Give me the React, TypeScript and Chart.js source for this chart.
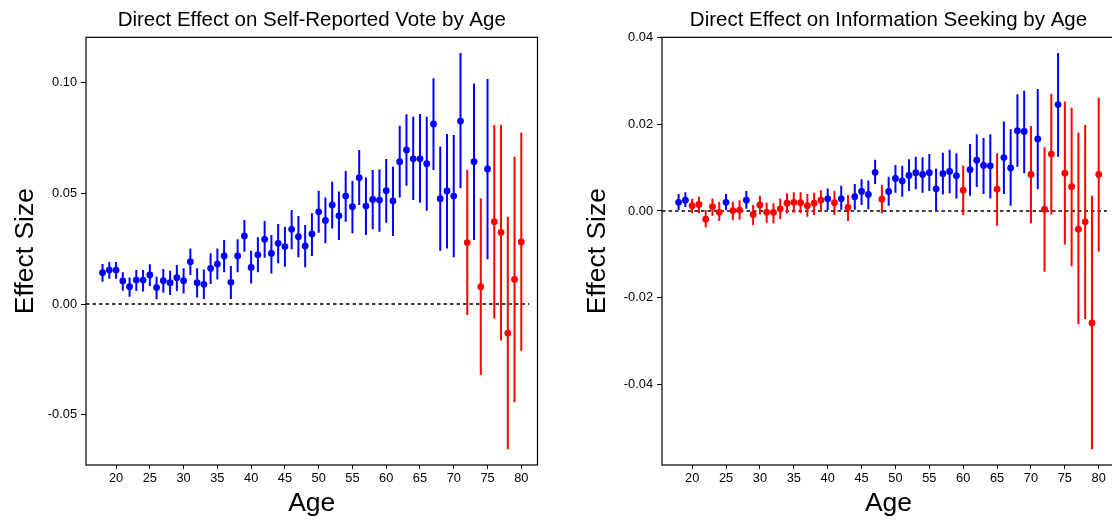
import { useEffect, useRef } from "react";
import { Chart, registerables } from "chart.js";

Chart.register(...registerables);

const FONT = "'Liberation Sans', Arial, Helvetica, sans-serif";

const ages = [
  18, 19, 20, 21, 22, 23, 24, 25, 26, 27, 28, 29, 30, 31, 32, 33, 34, 35, 36, 37, 38,
  39, 40, 41, 42, 43, 44, 45, 46, 47, 48, 49, 50, 51, 52, 53, 54, 55, 56, 57, 58, 59,
  60, 61, 62, 63, 64, 65, 66, 67, 68, 69, 70, 71, 72, 73, 74, 75, 76, 77, 78, 79, 80,
];

const ageTicks = [20, 25, 30, 35, 40, 45, 50, 55, 60, 65, 70, 75, 80];

const voteEffect = [
  0.0141, 0.0153, 0.0153, 0.0104, 0.0078, 0.0108, 0.0108, 0.0131, 0.0074, 0.0105,
  0.0096, 0.0119, 0.0105, 0.0191, 0.0096, 0.0089, 0.0161, 0.018, 0.0217, 0.0098,
  0.0217, 0.0307, 0.0165, 0.0222, 0.0292, 0.0228, 0.0274, 0.0259, 0.0337, 0.0304,
  0.0262, 0.0316, 0.0416, 0.0377, 0.0447, 0.0398, 0.0487, 0.0439, 0.057, 0.0442,
  0.0472, 0.0469, 0.0511, 0.0465, 0.0642, 0.0695, 0.0655, 0.0655, 0.0633, 0.0812,
  0.0475, 0.051, 0.0487, 0.0825, 0.0277, 0.0642, 0.0078, 0.0609, 0.0371, 0.0323,
  -0.0131, 0.0111, 0.028,
];
const voteLower = [
  0.01, 0.0114, 0.0114, 0.006, 0.0033, 0.0059, 0.0056, 0.0081, 0.0021, 0.0051,
  0.0041, 0.0059, 0.0048, 0.0131, 0.003, 0.0023, 0.009, 0.0111, 0.0143, 0.0023,
  0.0143, 0.0236, 0.0093, 0.0143, 0.0209, 0.0138, 0.0184, 0.0168, 0.0247, 0.0211,
  0.0166, 0.0217, 0.0322, 0.0274, 0.0341, 0.0289, 0.0371, 0.0319, 0.0447, 0.0311,
  0.0337, 0.0326, 0.0367, 0.0307, 0.048, 0.0534, 0.0469, 0.0457, 0.0421, 0.0604,
  0.024, 0.0251, 0.0211, 0.0522, -0.005, 0.0289, -0.032, 0.0202, -0.0065, -0.0165,
  -0.0655, -0.0443, -0.0211,
];
const voteUpper = [
  0.018, 0.019, 0.019, 0.0143, 0.012, 0.0153, 0.0153, 0.0179, 0.0123, 0.0158,
  0.015, 0.0176, 0.0161, 0.0251, 0.0161, 0.0156, 0.0229, 0.0251, 0.0289, 0.0171,
  0.0292, 0.0379, 0.024, 0.0301, 0.0374, 0.0311, 0.0361, 0.0349, 0.0424, 0.0397,
  0.0356, 0.0409, 0.0511, 0.0481, 0.0552, 0.0507, 0.06, 0.0555, 0.0695, 0.0571,
  0.0604, 0.0608, 0.0654, 0.0619, 0.0804, 0.0856, 0.0845, 0.0857, 0.0845, 0.1018,
  0.071, 0.0767, 0.0762, 0.1132, 0.0604, 0.0995, 0.0477, 0.1015, 0.0807, 0.0807,
  0.0394, 0.0664, 0.0773,
];
const voteTicks = [-0.05, 0.0, 0.05, 0.1];

const infoEffect = [
  0.002, 0.0025, 0.0012, 0.0015, -0.0019, 0.001, -0.0003, 0.002, 0.0001, 0.0002,
  0.0025, -0.0008, 0.0014, -0.0003, -0.0003, 0.0005, 0.0018, 0.002, 0.0019, 0.0012,
  0.0018, 0.0025, 0.0028, 0.0019, 0.0028, 0.0008, 0.0033, 0.0045, 0.0038, 0.0089,
  0.0027, 0.0045, 0.0075, 0.0069, 0.0082, 0.0088, 0.0084, 0.0088, 0.0051, 0.0086,
  0.0091, 0.0081, 0.0048, 0.0095, 0.0117, 0.0105, 0.0104, 0.005, 0.0123, 0.0099,
  0.0185, 0.0183, 0.0084, 0.0166, 0.0004, 0.0131, 0.0245, 0.0087, 0.0056, -0.0042,
  -0.0025, -0.0258, 0.0084,
];
const infoLower = [
  0.0002, 0.0009, -0.0005, -0.0005, -0.0038, -0.0011, -0.0023, 0.0002, -0.0021, -0.002,
  0.0005, -0.0032, -0.0008, -0.0027, -0.0028, -0.0019, -0.0005, -0.0004, -0.0005, -0.0013,
  -0.0009, -0.0002, 0.0002, -0.0009, 0.0003, -0.0023, 0.0003, 0.0014, 0.0004, 0.0062,
  -0.0005, 0.0012, 0.0042, 0.0033, 0.0046, 0.005, 0.0042, 0.0046, 0.0002, 0.0038,
  0.0041, 0.0029, -0.0009, 0.0035, 0.0055, 0.0039, 0.0029, -0.0034, 0.0039, 0.0012,
  0.0102, 0.0087, -0.0028, 0.005, -0.014, -0.0008, 0.0125, -0.0077, -0.0127, -0.0261,
  -0.0249, -0.0549, -0.0094,
];
const infoUpper = [
  0.0039, 0.0043, 0.0028, 0.0033, 0.0002, 0.0029, 0.0021, 0.0039, 0.0021, 0.0025,
  0.0046, 0.0014, 0.0035, 0.0019, 0.0018, 0.0029, 0.0041, 0.0043, 0.0043, 0.0039,
  0.0042, 0.0048, 0.0052, 0.0046, 0.0058, 0.0037, 0.0062, 0.0073, 0.007, 0.0118,
  0.006, 0.0079, 0.0106, 0.0104, 0.0119, 0.0125, 0.0124, 0.0131, 0.0098, 0.0134,
  0.0141, 0.0133, 0.0104, 0.0154, 0.0177, 0.0168, 0.0177, 0.0133, 0.0206, 0.0188,
  0.0269, 0.0277, 0.0196, 0.0281, 0.0147, 0.027, 0.0364, 0.0252, 0.0238, 0.0181,
  0.0198, 0.0035, 0.0261,
];
const infoTicks = [-0.04, -0.02, 0.0, 0.02, 0.04];

type PanelProps = {
  title: string;
  effect: number[];
  lower: number[];
  upper: number[];
  yTicks: number[];
  yMin: number;
  yMax: number;
  left: number;
  width: number;
  yAxisWidth: number;
  yTitlePad: number;
  padRight: number;
};

function Panel(p: PanelProps) {
  const ref = useRef<HTMLCanvasElement | null>(null);
  useEffect(() => {
    if (!ref.current) return;
    const colors = p.lower.map((lo, i) =>
      lo > 0 || p.upper[i] < 0 ? "#0000FF" : "#FF0000"
    );
    const errorBars = {
      id: "errorBars",
      beforeDatasetsDraw(chart: any) {
        const { ctx, chartArea, scales } = chart;
        const x = scales.x;
        const y = scales.y;
        ctx.save();
        ctx.beginPath();
        ctx.rect(chartArea.left, chartArea.top, chartArea.right - chartArea.left, chartArea.bottom - chartArea.top);
        ctx.clip();
        const y0 = y.getPixelForValue(0);
        ctx.beginPath();
        ctx.setLineDash([3.5, 3]);
        ctx.lineWidth = 1.5;
        ctx.strokeStyle = "#000";
        ctx.moveTo(chartArea.left, y0);
        ctx.lineTo(x.getPixelForValue(81.2), y0);
        ctx.stroke();
        ctx.setLineDash([]);
        ctx.lineWidth = 2;
        ages.forEach((a, i) => {
          const px = x.getPixelForValue(a);
          ctx.beginPath();
          ctx.strokeStyle = colors[i];
          ctx.moveTo(px, y.getPixelForValue(p.lower[i]));
          ctx.lineTo(px, y.getPixelForValue(p.upper[i]));
          ctx.stroke();
        });
        ctx.restore();
      },
      afterDraw(chart: any) {
        const { ctx, chartArea } = chart;
        const { left, right, top, bottom } = chartArea;
        ctx.save();
        ctx.strokeStyle = "#000";
        ctx.lineWidth = 1.2;
        ctx.strokeRect(left, top, right - left, bottom - top);
        ctx.fillStyle = "#000";
        ctx.font = `20.5px ${FONT}`;
        ctx.textAlign = "center";
        ctx.textBaseline = "middle";
        ctx.fillText(p.title, (left + right) / 2, 20.8);
        ctx.restore();
      },
    };
    const chart = new Chart(ref.current, {
      type: "scatter",
      data: {
        datasets: [
          {
            data: ages.map((a, i) => ({ x: a, y: p.effect[i] })),
            pointRadius: 3.4,
            pointHoverRadius: 3.4,
            pointBorderWidth: 0,
            pointBackgroundColor: colors,
            pointBorderColor: colors,
          },
        ],
      },
      options: {
        animation: false,
        responsive: false,
        maintainAspectRatio: false,
        events: [],
        layout: { padding: { left: 0, right: p.padRight, top: 37.3, bottom: 0 } },
        plugins: {
          legend: { display: false },
          tooltip: { enabled: false },
          title: { display: false },
        },
        scales: {
          x: {
            type: "linear",
            min: 15.55,
            max: 82.4,
            afterBuildTicks: (s: any) => {
              s.ticks = ageTicks.map((v) => ({ value: v }));
            },
            afterFit: (s: any) => {
              s.height = 56;
            },
            grid: { drawOnChartArea: false, drawTicks: true, tickLength: 4, color: "#000", lineWidth: 1 },
            border: { display: false },
            ticks: {
              color: "#000",
              font: { family: FONT, size: 12.8 },
              padding: 2,
              maxRotation: 0,
              autoSkip: false,
              callback: (v: any) => String(v),
            },
            title: {
              display: true,
              text: "Age",
              color: "#000",
              font: { family: FONT, size: 26.5 },
              padding: { top: 0, bottom: 1.8 },
            },
          },
          y: {
            type: "linear",
            min: p.yMin,
            max: p.yMax,
            afterBuildTicks: (s: any) => {
              s.ticks = p.yTicks.map((v) => ({ value: v }));
            },
            afterFit: (s: any) => {
              s.width = p.yAxisWidth;
            },
            grid: { drawOnChartArea: false, drawTicks: true, tickLength: 5, color: "#000", lineWidth: 1 },
            border: { display: false },
            ticks: {
              color: "#000",
              font: { family: FONT, size: 12.8 },
              padding: 4,
              autoSkip: false,
              callback: (v: any) => Number(v).toFixed(2),
            },
            title: {
              display: true,
              text: "Effect Size",
              color: "#000",
              font: { family: FONT, size: 26.5 },
              padding: { top: p.yTitlePad, bottom: 0 },
            },
          },
        },
      },
      plugins: [errorBars],
    } as any);
    return () => chart.destroy();
  }, []);
  return (
    <canvas
      ref={ref}
      width={p.width}
      height={521}
      style={{ position: "absolute", left: p.left, top: 0, width: p.width, height: 521, display: "block" }}
    />
  );
}

export default function App() {
  return (
    <div
      style={{
        position: "fixed",
        left: 0,
        top: 0,
        width: 1112,
        height: 521,
        overflow: "hidden",
        background: "#fff",
      }}
    >
      <Panel
        title="Direct Effect on Self-Reported Vote by Age"
        effect={voteEffect}
        lower={voteLower}
        upper={voteUpper}
        yTicks={voteTicks}
        yMin={-0.0726}
        yMax={0.1203}
        left={0}
        width={556}
        yAxisWidth={86}
        yTitlePad={10}
        padRight={18.5}
      />
      <Panel
        title="Direct Effect on Information Seeking by Age"
        effect={infoEffect}
        lower={infoLower}
        upper={infoUpper}
        yTicks={infoTicks}
        yMin={-0.0585}
        yMax={0.04}
        left={556}
        width={640}
        yAxisWidth={106}
        yTitlePad={26}
        padRight={81}
      />
    </div>
  );
}
